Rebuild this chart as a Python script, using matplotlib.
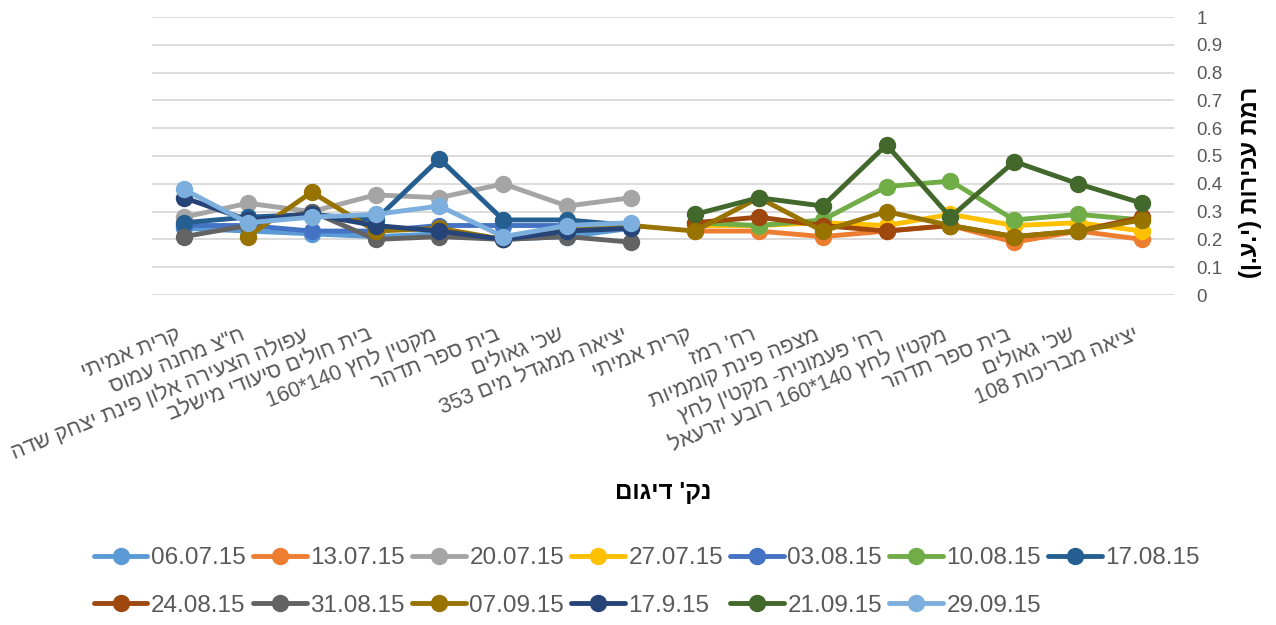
import matplotlib

matplotlib.use("Agg")
import matplotlib.pyplot as plt
import matplotlib.transforms as mtransforms
import numpy as np

nan = np.nan

# sampling points (logical Hebrew order)
categories = [
    "קרית אמיתי",
    'ח"צ מחנה עמוס',
    "עפולה הצעירה אלון פינת יצחק שדה",
    "בית חולים סיעודי מישלב",
    "מקטין לחץ 140*160",
    "בית ספר תדהר",
    "שכ' גאולים",
    "יציאה ממגדל מים 353",
    "קרית אמיתי",
    "רח' רמז",
    "מצפה פינת קוממיות",
    "רח' פעמונית- מקטין לחץ",
    "מקטין לחץ 140*160 רובע יזרעאל",
    "בית ספר תדהר",
    "שכ' גאולים",
    "יציאה מבריכות 108",
]

dates = ["06.07.15", "13.07.15", "20.07.15", "27.07.15", "03.08.15", "10.08.15", "17.08.15",
         "24.08.15", "31.08.15", "07.09.15", "17.9.15", "21.09.15", "29.09.15"]

colors = ["#5B9BD5", "#ED7D31", "#A5A5A5", "#FFC000", "#4472C4", "#70AD47", "#255E91",
          "#9E480E", "#636363", "#997300", "#264478", "#43682B", "#7CAFDD"]

NA8 = [nan] * 8
s_0607 = [0.24, 0.23, 0.22, 0.21, 0.22, 0.20, 0.21, 0.24] + NA8
s_1307 = NA8 + [0.23, 0.23, 0.21, 0.23, 0.25, 0.19, 0.23, 0.20]
s_2007 = [0.28, 0.33, 0.30, 0.36, 0.35, 0.40, 0.32, 0.35] + NA8
s_2707 = NA8 + [0.25, 0.25, 0.26, 0.25, 0.29, 0.25, 0.26, 0.23]
s_0308 = [0.25, 0.25, 0.23, 0.23, 0.25, 0.25, 0.25, 0.24] + NA8
s_1008 = NA8 + [0.26, 0.25, 0.27, 0.39, 0.41, 0.27, 0.29, 0.27]
s_1708 = [0.26, 0.28, 0.29, 0.27, 0.49, 0.27, 0.27, 0.25] + NA8
s_2408 = NA8 + [0.26, 0.28, 0.25, 0.23, 0.25, 0.21, 0.23, 0.28]
s_3108 = [0.21, 0.25, 0.30, 0.20, 0.21, 0.20, 0.21, 0.19] + NA8
s_0709 = [nan, 0.21, 0.37, 0.23, 0.24, 0.20, 0.24, 0.25,
          0.23, 0.35, 0.23, 0.30, 0.25, 0.21, 0.23, 0.27]
s_1709 = [0.35, 0.27, 0.29, 0.25, 0.23, 0.20, 0.23, 0.24] + NA8
s_2109 = NA8 + [0.29, 0.35, 0.32, 0.54, 0.28, 0.48, 0.40, 0.33]
s_2909 = [0.38, 0.26, 0.28, 0.29, 0.32, 0.21, 0.25, 0.26] + NA8

series = [s_0607, s_1307, s_2007, s_2707, s_0308, s_1008, s_1708,
          s_2408, s_3108, s_0709, s_1709, s_2109, s_2909]

y_ticks = [0, 0.1, 0.2, 0.3, 0.4, 0.5, 0.6, 0.7, 0.8, 0.9, 1]
y_title = "רמת עכירות (י.ע.ן)"
x_title = "נק' דיגום"

MIRROR = {"(": ")", ")": "("}


def visual(text: str) -> str:
    # reverse for right-to-left display, keep digit runs in reading order
    rev = "".join(MIRROR.get(c, c) for c in reversed(text))
    out, run = [], ""
    for c in rev:
        if c.isdigit():
            run += c
        else:
            if run:
                out.append(run[::-1])
                run = ""
            out.append(c)
    if run:
        out.append(run[::-1])
    return "".join(out)


plt.rcParams["font.family"] = ["Liberation Sans", "DejaVu Sans"]

fig = plt.figure(figsize=(12.76, 6.25), dpi=100)
ax = fig.add_axes([152 / 1276, 1 - 295 / 625, (1174 - 152) / 1276, (295 - 17) / 625])

x = np.arange(len(categories))
handles = []
for name, vals, col in zip(dates, series, colors):
    (h,) = ax.plot(x, vals, color=col, lw=3.5, marker="o", ms=11.5,
                   solid_capstyle="round", solid_joinstyle="round", label=name)
    handles.append(h)

ax.set_xlim(-0.5, len(categories) - 0.5)
ax.set_ylim(0, 1)
ax.set_yticks(y_ticks)
ax.set_yticklabels([f"{t:g}" for t in y_ticks])
ax.yaxis.tick_right()
ax.tick_params(axis="y", length=0, pad=16, labelsize=13.5, labelcolor="#595959")
ax.set_xticks(x)
ax.set_xticklabels([visual(c) for c in categories], rotation=22, ha="right", va="top",
                   rotation_mode="anchor")
ax.tick_params(axis="x", length=0, pad=21, labelsize=15.5, labelcolor="#595959")
shift = mtransforms.ScaledTranslation(-8 / 100, 0, fig.dpi_scale_trans)
for lab in ax.get_xticklabels():
    lab.set_transform(lab.get_transform() + shift)
ax.grid(axis="y", color="#D9D9D9", lw=1.3)
ax.set_axisbelow(True)
for sp in ax.spines.values():
    sp.set_visible(False)

fig.text(1250 / 1276, 1 - 182 / 625, visual(y_title), rotation=90, ha="center", va="center",
         fontsize=17, fontweight="bold", color="black")
fig.text(663 / 1276, 1 - 492 / 625, visual(x_title), ha="center", va="center",
         fontsize=17.5, fontweight="bold", color="black")

# legend laid out row by row: 7 on the first row, 6 on the second
order = []
for i in range(7):
    order.append(i)
    if i + 7 < len(handles):
        order.append(i + 7)
leg = fig.legend([handles[i] for i in order], [dates[i] for i in order], ncol=7,
                 loc="center", bbox_to_anchor=(647 / 1276, 1 - 582 / 625), frameon=False,
                 fontsize=17.5, handlelength=2.2, handletextpad=0.15, columnspacing=0.3,
                 labelspacing=1.05, labelcolor="#595959")

fig.savefig("out.png", dpi=100)
